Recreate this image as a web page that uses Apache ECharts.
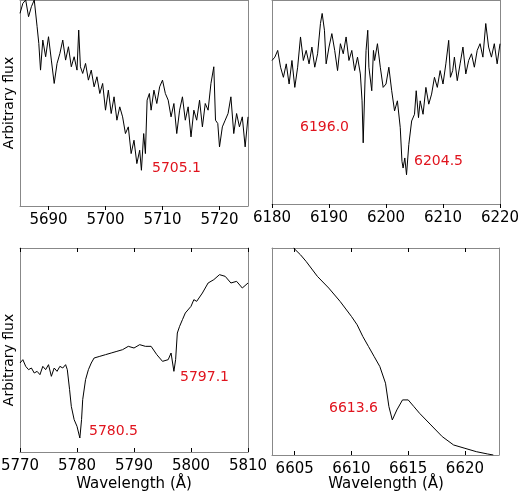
<!doctype html>
<html>
<head>
<meta charset="utf-8" />
<script src="https://cdn.jsdelivr.net/npm/echarts@6/dist/echarts.min.js"></script>
<style>
  body { margin: 0; background: #fff; }
  #chart { width: 520px; height: 496px; }
</style>
</head>
<body>
<div id="chart"></div>
<script>
// flux readings are depth below panel top (arbitrary units), plotted on inverted y axes
const waveA = [5685,5685.5,5686,5686.5,5687,5687.5,5688,5688.3,5688.6,5689,5689.5,5690,5690.5,5691,5691.5,5692,5692.5,5693,5693.5,5694,5694.5,5695,5695.3,5695.6,5696,5696.5,5697,5697.5,5698,5698.5,5699,5699.5,5700,5700.5,5701,5701.5,5702,5702.5,5703,5703.5,5704,5704.5,5705,5705.5,5706,5706.3,5706.7,5707,5707.3,5707.7,5708,5708.5,5709,5709.5,5710,5710.5,5711,5711.5,5712,5712.5,5713,5713.5,5714,5714.5,5715,5715.5,5716,5716.5,5717,5717.5,5718,5718.5,5719,5719.3,5719.7,5720,5720.5,5721,5721.5,5722,5722.5,5723,5723.5,5724,5724.5,5725];
const fluxA = [40,10,0,50,20,0,80,130,210,120,170,110,180,250,190,160,120,180,140,200,170,210,90,200,220,190,240,210,260,230,280,250,330,270,340,290,360,320,350,400,380,460,420,490,450,510,400,460,300,280,330,270,310,260,240,280,300,350,310,400,330,290,360,320,410,330,360,300,380,310,330,250,200,360,370,440,380,360,340,290,400,340,380,350,440,350];

const waveB = [6180,6180.5,6181,6181.5,6182,6182.5,6183,6183.5,6184,6184.5,6185,6185.5,6186,6186.5,6187,6187.5,6188,6188.5,6188.8,6189.2,6189.5,6190,6190.5,6191,6191.5,6192,6192.5,6193,6193.5,6194,6194.5,6195,6195.5,6195.8,6196,6196.3,6196.5,6196.8,6197,6197.5,6197.8,6198,6198.5,6199,6199.5,6200,6200.5,6201,6201.5,6202,6202.5,6202.8,6203,6203.3,6203.6,6204,6204.5,6205,6205.3,6205.7,6206,6206.5,6207,6207.5,6208,6208.5,6209,6209.5,6210,6210.5,6211,6211.3,6211.7,6212,6212.5,6213,6213.5,6214,6214.5,6215,6215.5,6216,6216.5,6217,6217.5,6218,6218.5,6219,6219.5,6220];
const fluxB = [180,170,150,200,230,190,250,180,260,200,110,180,150,190,140,200,160,70,40,90,190,140,100,150,210,130,160,110,180,150,210,170,220,300,425,250,150,90,200,270,150,180,130,200,260,250,200,270,330,300,380,480,500,470,520,430,360,340,270,350,300,340,260,310,280,230,260,210,250,190,120,230,210,170,240,190,140,220,180,160,200,150,130,170,70,140,170,130,190,130];

const waveC = [5770,5770.5,5771,5771.5,5772,5772.5,5773,5773.5,5774,5774.5,5775,5775.5,5776,5776.5,5777,5777.5,5778,5778.3,5778.7,5779,5779.5,5780,5780.5,5780.8,5781,5781.5,5782,5782.5,5783,5784,5785,5786,5787,5788,5789,5790,5791,5792,5793,5794,5795,5796,5796.5,5797,5797.3,5797.6,5798,5798.5,5799,5800,5800.5,5801,5802,5803,5804,5805,5806,5807,5808,5809,5810];
const fluxC = [370,360,380,390,385,400,395,405,380,390,375,410,385,395,380,385,375,390,450,500,540,560,595,540,480,420,390,370,355,350,345,340,335,330,320,325,315,320,320,345,365,360,340,395,360,280,260,240,220,200,180,185,160,130,120,105,110,130,125,145,130];

const waveD = [6604.9,6605.5,6606,6607,6608,6609,6610,6610.5,6611,6611.5,6612,6612.5,6613,6613.3,6613.6,6614,6614.5,6615,6615.5,6616,6617,6618,6619,6620,6621,6622,6622.5];
const fluxD = [25,45,65,110,145,185,230,255,290,320,350,380,430,500,540,510,480,480,500,520,555,590,615,625,635,642,645];

const ticksA = [5690, 5700, 5710, 5720];
const ticksB = [6180, 6190, 6200, 6210, 6220];
const ticksC = [5770, 5780, 5790, 5800, 5810];
const ticksD = [6605, 6610, 6615, 6620];

const panels = [
  { wave: waveA, flux: fluxA, x: [5685, 5725], ticks: ticksA, yr: [0, 617], grid: { left: 20, top: 0, width: 228, height: 206 } },
  { wave: waveB, flux: fluxB, x: [6180, 6220], ticks: ticksB, yr: [0, 607], grid: { left: 272, top: 0, width: 228, height: 204 } },
  { wave: waveC, flux: fluxC, x: [5770, 5810], ticks: ticksC, yr: [25, 637], grid: { left: 20, top: 248, width: 228, height: 204 } },
  { wave: waveD, flux: fluxD, x: [6603, 6623], ticks: ticksD, yr: [25, 645], grid: { left: 272, top: 248, width: 227, height: 207 } }
];
const lineLabels = [
  { text: '5705.1', x: 152, y: 161 },
  { text: '6196.0', x: 300, y: 120 },
  { text: '6204.5', x: 414, y: 154 },
  { text: '5780.5', x: 89, y: 424 },
  { text: '5797.1', x: 180, y: 370 },
  { text: '6613.6', x: 329, y: 401 }
];

const axisLine = { show: true, lineStyle: { color: '#888', width: 1 } };
const grid = [], xAxis = [], yAxis = [], series = [];
panels.forEach((p, i) => {
  grid.push(Object.assign({ outerBoundsMode: 'none', containLabel: false }, p.grid));
  const base = {
    gridIndex: i, type: 'value', min: p.x[0], max: p.x[1],
    axisLine, splitLine: { show: false },
    axisTick: { inside: true, length: 4, customValues: p.ticks, lineStyle: { color: '#000' } }
  };
  xAxis.push(Object.assign({}, base, {
    position: 'bottom',
    axisLabel: {
      color: '#000', fontSize: 15, fontFamily: 'DejaVu Sans', margin: 7,
      customValues: p.ticks, hideOverlap: false, formatter: v => String(v)
    }
  }));
  xAxis.push(Object.assign({}, base, { position: 'top', axisLabel: { show: false } }));
  yAxis.push({
    gridIndex: i, type: 'value', inverse: true, min: p.yr[0], max: p.yr[1],
    axisLine, axisTick: { show: false }, axisLabel: { show: false }, splitLine: { show: false }
  });
  yAxis.push({
    gridIndex: i, type: 'value', position: 'right', min: 0, max: 1,
    axisLine, axisTick: { show: false }, axisLabel: { show: false }, splitLine: { show: false }
  });
  series.push({
    type: 'line', xAxisIndex: i * 2, yAxisIndex: i * 2, symbol: 'none',
    data: p.wave.map((w, k) => [w, p.flux[k]]),
    lineStyle: { color: '#000', width: 1 }, clip: true
  });
});

const graphic = lineLabels.map(l => ({
  type: 'text', left: l.x, top: l.y,
  style: { text: l.text, fill: '#e0141e', font: '14px "DejaVu Sans"' }
}));
[103, 360].forEach(cy => graphic.push({
  type: 'text', x: 2, y: cy, rotation: Math.PI / 2, originX: 0, originY: 0,
  style: { text: 'Arbitrary flux', fill: '#000', font: '14px "DejaVu Sans"', align: 'center', verticalAlign: 'top' }
}));
[134, 386].forEach(cx => graphic.push({
  type: 'text', x: cx, y: 477,
  style: { text: 'Wavelength (Å)', fill: '#000', font: '15px "DejaVu Sans"', align: 'center' }
}));

const chart = echarts.init(document.getElementById('chart'), null, { renderer: 'canvas' });
chart.setOption({ animation: false, backgroundColor: '#fff', grid, xAxis, yAxis, series, graphic });
</script>
</body>
</html>
